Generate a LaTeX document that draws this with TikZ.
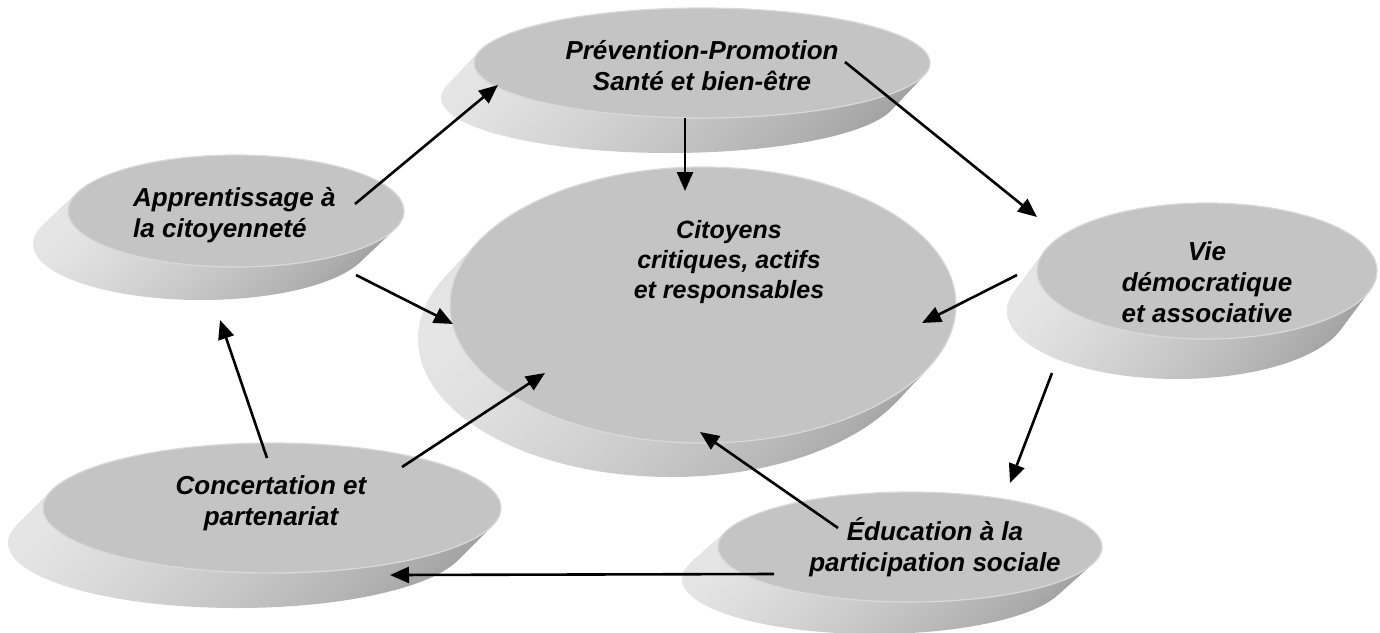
\documentclass[tikz,border=0pt]{standalone}
\usepackage{fontspec}
\setmainfont{Liberation Sans}
\usetikzlibrary{shapes.geometric,arrows.meta}

\tikzset{
  side/.style={left color=white!90!black, middle color=white!66!black, right color=white!63!black},
  topdisc/.style={ellipse, fill=white!77!black, draw=white!85!black, line width=1.2pt, inner sep=0pt},
  lbl/.style={font=\bfseries\itshape\fontsize{26}{31}\selectfont, align=center, inner sep=0pt},
  arr/.style={-{Triangle[length=19pt,width=16pt]}, line width=2.6pt},
}

% disc: name, x, y, x radius, y radius, shift left, shift down
\newcommand{\disc}[7]{%
  \foreach \k in {12,...,1}{
    \path[side] (#2-#6*\k/12, #3+#7*\k/12) ellipse [x radius=#4pt, y radius=#5pt];
  }
  \node[topdisc, minimum width=2*#4pt, minimum height=2*#5pt] (#1) at (#2,#3) {};
}

\begin{document}
\begin{tikzpicture}[x=1pt, y=-1pt]
\useasboundingbox (0,0) rectangle (1380,632);

% discs
\disc{prev}{702}{63}{228}{55}{33}{35}
\disc{appr}{236}{211}{168}{56}{35}{33}
\disc{cit}{703}{305}{253}{138}{32}{34}
\disc{vie}{1207}{271}{170}{68}{30}{40}
\disc{conc}{272}{508}{229}{65}{35}{35}
\disc{educ}{910}{547}{192}{55}{36}{32}

% labels
\node[lbl] (prev-t) at (702,66) {Prévention-Promotion\\Santé et bien-être};
\node[lbl, align=left, anchor=west] (appr-t) at (133,215) {Apprentissage à\\la citoyenneté};
\node[lbl, font=\bfseries\itshape\fontsize{25}{30}\selectfont] (cit-t) at (729,262) {Citoyens\\critiques, actifs\\et responsables};
\node[lbl] (vie-t) at (1207,282) {Vie\\démocratique\\et associative};
\node[lbl] (conc-t) at (271,503) {Concertation et\\partenariat};
\node[lbl] (educ-t) at (935,547) {Éducation à la\\participation sociale};

% arrow ends
\coordinate (appr-a) at (355,204);
\coordinate (prev-a) at (498,85);
\coordinate (prev-b) at (685,118);
\coordinate (cit-a) at (685,191);
\coordinate (prev-c) at (845,62);
\coordinate (vie-a) at (1037,217);
\coordinate (appr-b) at (356,275);
\coordinate (cit-b) at (453,324);
\coordinate (vie-b) at (1017,275);
\coordinate (cit-c) at (922,323);
\coordinate (vie-c) at (1052,373);
\coordinate (educ-a) at (1010,483);
\coordinate (educ-b) at (838,528);
\coordinate (cit-d) at (700,432);
\coordinate (conc-a) at (402,467);
\coordinate (cit-e) at (545,373);
\coordinate (conc-b) at (267,458);
\coordinate (appr-c) at (220,320);
\coordinate (educ-c) at (774,574);
\coordinate (conc-c) at (390,575);

% arrows
\draw[arr] (appr-a) -- (prev-a);
\draw[arr] (prev-b) -- (cit-a);
\draw[arr] (prev-c) -- (vie-a);
\draw[arr] (appr-b) -- (cit-b);
\draw[arr] (vie-b) -- (cit-c);
\draw[arr] (vie-c) -- (educ-a);
\draw[arr] (educ-b) -- (cit-d);
\draw[arr] (conc-a) -- (cit-e);
\draw[arr] (conc-b) -- (appr-c);
\draw[arr] (educ-c) -- (conc-c);
\end{tikzpicture}
\end{document}
